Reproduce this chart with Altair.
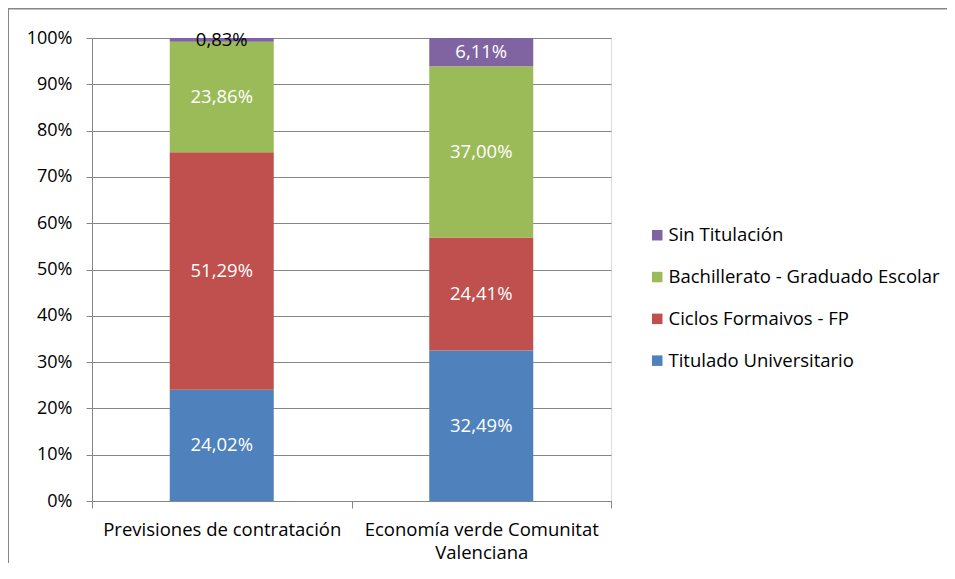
import altair as alt
import pandas as pd

categories = ["Previsiones de contratación", "Economía verde Comunitat Valenciana"]
series = ["Titulado Universitario", "Ciclos Formaivos - FP", "Bachillerato - Graduado Escolar", "Sin Titulación"]
previsiones = [24.02, 51.29, 23.86, 0.83]
economia = [32.49, 24.41, 37.00, 6.11]
colors = ["#4F81BD", "#C0504D", "#9BBB59", "#8064A2"]

rows = []
for cat, vals in zip(categories, [previsiones, economia]):
    for i, (s, v) in enumerate(zip(series, vals)):
        rows.append({"cat": cat, "serie": s, "idx": i, "value": v})
df = pd.DataFrame(rows)

W, H = 519, 463
FONT = "Open Sans"
FS = 18.5

base = alt.Chart(df).transform_stack(
    stack="value", groupby=["cat"], as_=["v0", "v1"],
    sort=[alt.SortField("idx", order="ascending")], offset="normalize"
).transform_calculate(
    mid="(datum.v0 + datum.v1) / 2",
    label="replace(format(datum.value, '.2f'), '.', ',') + '%'"
)

xenc = alt.X("cat:N", sort=categories, title=None,
             scale=alt.Scale(paddingInner=0, paddingOuter=0),
             axis=alt.Axis(labelAngle=0, tickBand="extent", tickSize=7,
                           domainColor="#868686", tickColor="#868686",
                           labelFont=FONT, labelFontSize=FS, labelColor="black",
                           labelPadding=12, labelLineHeight=23.5, labelLimit=0,
                           labelExpr="datum.value == 'Economía verde Comunitat Valenciana' ? ['Economía verde Comunitat', 'Valenciana'] : datum.value"))

bars = base.mark_bar(width=104).encode(
    x=xenc,
    y=alt.Y("v0:Q", title=None, scale=alt.Scale(domain=[0, 1], nice=False),
            axis=alt.Axis(format=".0%", values=[i / 10 for i in range(11)],
                          grid=True, gridColor="#868686", domainColor="#868686",
                          tickColor="#868686", tickSize=6, labelFont=FONT,
                          labelFontSize=18, labelColor="black", labelPadding=14)),
    y2="v1:Q",
    color=alt.Color("serie:N",
                    scale=alt.Scale(domain=series[::-1], range=colors[::-1]),
                    legend=alt.Legend(title=None, orient="none", legendX=556, legendY=188,
                                      symbolType="square", symbolSize=110,
                                      symbolStrokeWidth=0, labelFont=FONT,
                                      labelFontSize=FS, labelColor="black", labelLimit=0,
                                      labelOffset=2, rowPadding=22.8, padding=0)),
)

texts = base.mark_text(font=FONT, fontSize=FS, baseline="middle").encode(
    x=alt.X("cat:N", sort=categories),
    y=alt.Y("mid:Q"),
    text="label:N",
    color=alt.condition(alt.datum.value < 2, alt.value("black"), alt.value("white")),
)

frame = pd.DataFrame({"a": [0]})
top_line = alt.Chart(frame).mark_rect(color="#868686", clip=False).encode(
    x=alt.value(-84.5), x2=alt.value(855), y=alt.value(-30), y2=alt.value(-28.5))
left_line = alt.Chart(frame).mark_rect(color="#868686", clip=False).encode(
    x=alt.value(-84.5), x2=alt.value(-83), y=alt.value(-30), y2=alt.value(525))

chart = alt.layer(top_line, left_line, bars, texts).properties(
    width=W, height=H,
    autosize=alt.AutoSizeParams(type="none"),
    padding={"left": 84, "top": 30, "right": 336, "bottom": 62},
).configure_view(stroke=None).configure(background="white")

chart.save("out.html", embed_options={"renderer": "svg", "actions": False})
